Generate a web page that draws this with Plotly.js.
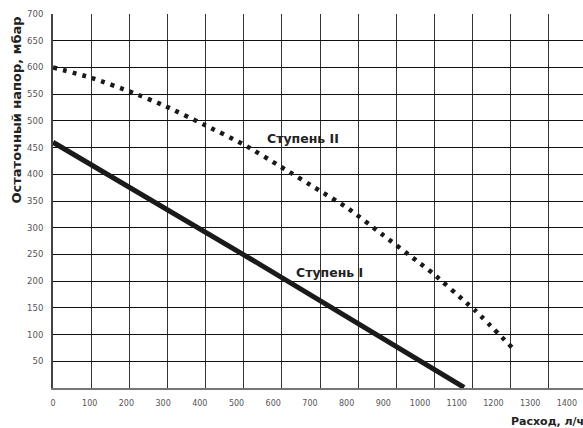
<!DOCTYPE html>
<html>
<head>
<meta charset="utf-8">
<script src="https://cdn.plot.ly/plotly-3.0.1.min.js"></script>
<style>html,body{margin:0;padding:0;background:#fff;}#chart{width:583px;height:428px;}</style>
</head>
<body>
<div id="chart"></div>
<script>
// Ступень I (solid line)
const flowI = [0, 540, 1120];
const pressI = [460, 241, 1];
// Ступень II (dotted line)
const flowII = [0, 107, 216, 305, 411, 519, 621, 725, 800, 896, 991, 1036, 1127, 1152, 1256];
const pressII = [600, 580, 553, 528, 493, 456, 414, 370, 338, 288, 238, 214, 159, 144, 72];
// tick labels
const xTicks = [0, 100, 200, 300, 400, 500, 600, 700, 800, 900, 1000, 1100, 1200, 1300, 1400];
const yTicks = [50, 100, 150, 200, 250, 300, 350, 400, 450, 500, 550, 600, 650, 700];
const seriesNames = ['Ступень I', 'Ступень II'];
const xTitle = 'Расход, л/ч';
const yTitle = 'Остаточный напор, мбар';

const FONT = 'DejaVu Sans, sans-serif';

const traces = [
  {x: flowI, y: pressI, mode: 'lines', name: seriesNames[0],
   line: {color: '#1a1a1a', width: 5}, hoverinfo: 'x+y'},
  {x: flowII, y: pressII, mode: 'lines', name: seriesNames[1],
   line: {color: '#1a1a1a', width: 4.5, dash: '4px,6px', shape: 'spline', smoothing: 0.6}, hoverinfo: 'x+y'}
];

const layout = {
  width: 583, height: 428,
  margin: {l: 53, r: 0, t: 14, b: 40},
  paper_bgcolor: '#fff', plot_bgcolor: '#fff',
  showlegend: false,
  font: {family: FONT, color: '#444'},
  xaxis: {
    range: [0, 1444], tickmode: 'array', tickvals: xTicks, ticktext: xTicks.map(String),
    showgrid: false, zeroline: false, showline: true, linecolor: '#777', linewidth: 2,
    ticks: '', ticklabelstandoff: 6,
    tickfont: {family: FONT, size: 8, color: '#555'},
    minor: {tickmode: 'linear', tick0: 0, dtick: 103.95, showgrid: true,
            gridcolor: '#333', gridwidth: 1, ticks: ''}
  },
  yaxis: {
    range: [0, 700], tickvals: yTicks, ticktext: yTicks.map(String),
    showgrid: true, gridcolor: '#111', gridwidth: 1,
    zeroline: false, showline: true, linecolor: '#444', linewidth: 2,
    ticks: '', ticklabelstandoff: 6,
    tickfont: {family: FONT, size: 8.5, color: '#555'}
  },
  annotations: [
    {text: '<b>' + seriesNames[1] + '</b>', xref: 'x', yref: 'y', x: 681, y: 467,
     showarrow: false, font: {family: FONT, size: 12.5, color: '#222'}},
    {text: '<b>' + seriesNames[0] + '</b>', xref: 'x', yref: 'y', x: 754, y: 216,
     showarrow: false, font: {family: FONT, size: 12.5, color: '#222'}},
    {text: '<b>' + xTitle + '</b>', xref: 'paper', yref: 'paper', x: 0.861, y: -0.09,
     xanchor: 'left', yanchor: 'middle', showarrow: false,
     font: {family: FONT, size: 11, color: '#222'}},
    {text: '<b>' + yTitle + '</b>', xref: 'paper', yref: 'paper', x: -0.068, y: 1.0,
     xanchor: 'center', yanchor: 'top', textangle: -90, showarrow: false,
     font: {family: FONT, size: 13, color: '#222'}}
  ]
};

Plotly.newPlot('chart', traces, layout, {displayModeBar: false, staticPlot: true});
</script>
</body>
</html>
